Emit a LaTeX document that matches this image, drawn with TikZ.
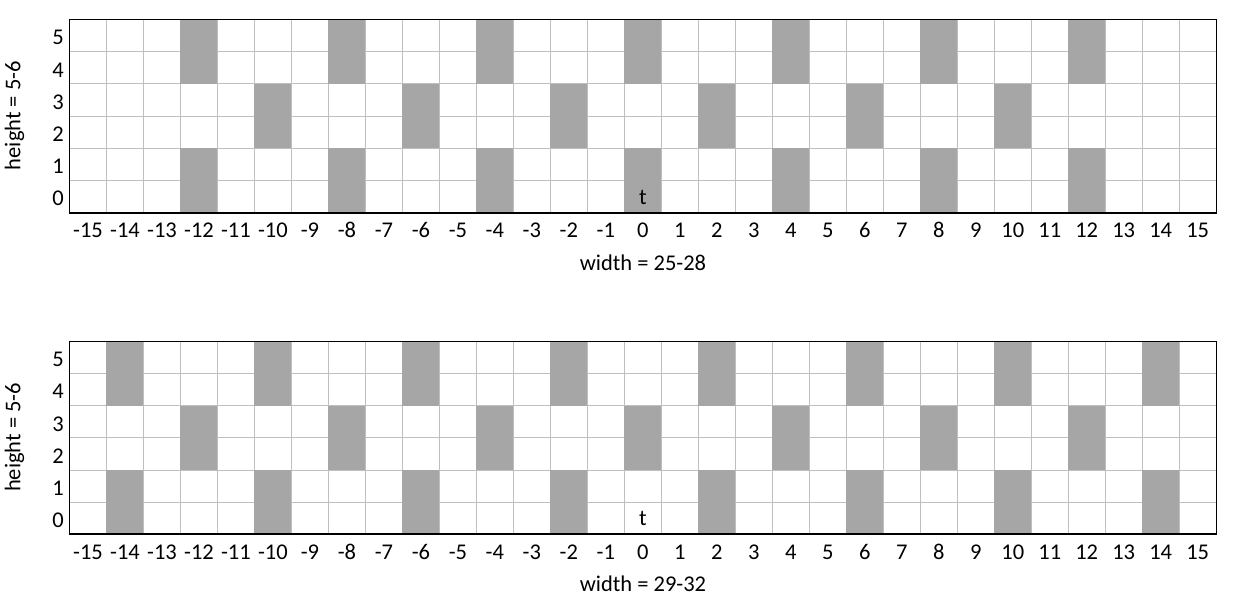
\documentclass[tikz,border=0pt]{standalone}
\usepackage{fontspec}
\setmainfont{Carlito}
\definecolor{cellgray}{HTML}{A6A6A6}
\definecolor{gridgray}{HTML}{BFBFBF}
\tikzset{
  gridline/.style={draw=gridgray, line width=0.9pt},
  shaded/.style={fill=cellgray},
  frame/.style={draw=black, line width=1pt},
  baseline/.style={draw=black, line width=2pt},
  lbl/.style={font=\fontsize{22.5}{27}\selectfont, inner sep=0pt, text=black},
}
\newcommand{\patgrid}[4]{% #1 name prefix, #2 yshift, #3 columns shaded in rows 0-1 and 4-5, #4 columns shaded in rows 2-3
  \begin{scope}[shift={(69.5pt,#2)}, x=36.99pt, y=32.17pt]
    \fill[white] (0,0) rectangle (31,6);
    \foreach \i in {1,...,30} { \draw[gridline] (\i,0) -- (\i,6); }
    \foreach \j in {1,...,5} { \draw[gridline] (0,\j) -- (31,\j); }
    \foreach \c in {#3} {
      \fill[shaded] (\c+15,0) rectangle (\c+16,2);
      \fill[shaded] (\c+15,4) rectangle (\c+16,6);
    }
    \foreach \c in {#4} {
      \fill[shaded] (\c+15,2) rectangle (\c+16,4);
    }
    \draw[frame] (0,0) -- (0,6) -- (31,6) -- (31,0);
    \draw[baseline] (-0.015,0) -- (31.015,0);
    \foreach \r in {0,...,5} {
      \node[lbl, anchor=base east] (#1row\r) at (-0.15,\r+0.21) {\r};
    }
    \foreach \c [evaluate=\c as \xx using \c+15.5] in {-15,...,15} {
      \node[lbl, anchor=base] (#1col\c) at (\xx,-0.79) {\c};
    }
    \node[lbl, anchor=base] (#1t) at (15.5,0.26) {t};
    \node[lbl, rotate=90, anchor=base] (#1h) at (-1.325,3.01) {height = 5-6};
  \end{scope}
}
\begin{document}
\begin{tikzpicture}
\useasboundingbox (0,-607pt) rectangle (1246pt,0);
\patgrid{a}{-212.5pt}{-12,-8,-4,0,4,8,12}{-10,-6,-2,2,6,10}
\node[lbl, anchor=base] (awidth) at (643pt,-270pt) {width = 25-28};
\patgrid{b}{-534.3pt}{-14,-10,-6,-2,2,6,10,14}{-12,-8,-4,0,4,8,12}
\node[lbl, anchor=base] (bwidth) at (643pt,-591pt) {width = 29-32};
\end{tikzpicture}
\end{document}
